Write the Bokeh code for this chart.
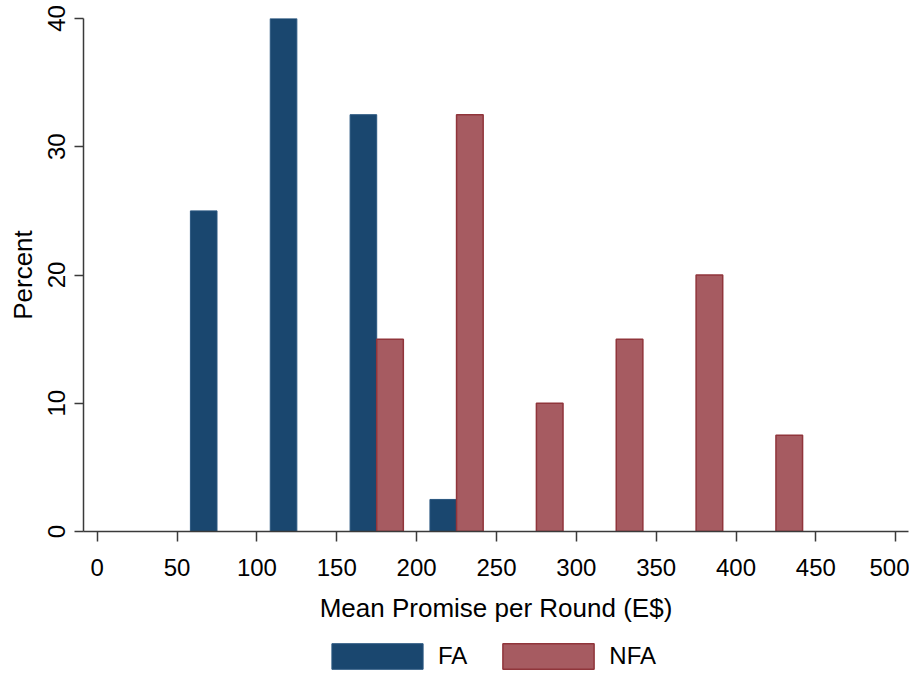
from bokeh.plotting import figure
from bokeh.models import ColumnDataSource, Range1d, FixedTicker, Legend, LegendItem
from bokeh.layouts import column
from bokeh.transform import dodge
from bokeh.embed import file_html
from bokeh.resources import INLINE

# data
fa_bins = [50, 100, 150, 200]
fa_pct = [25, 40, 32.5, 2.5]
nfa_bins = [150, 200, 250, 300, 350, 400]
nfa_pct = [15, 32.5, 10, 15, 20, 7.5]
x_ticks = [0, 50, 100, 150, 200, 250, 300, 350, 400, 450, 500]
y_ticks = [0, 10, 20, 30, 40]
series_names = ["FA", "NFA"]

FONT = "Liberation Sans"
BAR_W = 50 / 3
FA_FILL, FA_LINE = "#1a476f", "#2a5780"
NFA_FILL, NFA_LINE = "#a65b61", "#90353b"

p = figure(width=909, height=630, output_backend="svg", toolbar_location=None,
           x_range=Range1d(-8.6, 508), y_range=Range1d(0, 40),
           min_border_left=83, min_border_top=18, min_border_right=1, min_border_bottom=99)
p.outline_line_color = None
p.xgrid.visible = False
p.ygrid.visible = False

fa_src = ColumnDataSource(dict(bin=fa_bins, pct=fa_pct))
nfa_src = ColumnDataSource(dict(bin=nfa_bins, pct=nfa_pct))

p.vbar(x=dodge("bin", BAR_W, range=None), top="pct", width=BAR_W, bottom=0,
       source=fa_src, fill_color=FA_FILL, line_color=FA_LINE, line_width=1)
p.vbar(x=dodge("bin", 2 * BAR_W, range=None), top="pct", width=BAR_W, bottom=0,
       source=nfa_src, fill_color=NFA_FILL, line_color=NFA_LINE, line_width=1.5)

for ax in (p.xaxis[0], p.yaxis[0]):
    ax.axis_line_color = "#3a3a3a"
    ax.axis_line_width = 1.5
    ax.major_tick_line_color = "#3a3a3a"
    ax.major_tick_line_width = 1.5
    ax.major_tick_in = 0
    ax.minor_tick_line_color = None
    ax.major_label_text_font = FONT
    ax.major_label_text_color = "black"
    ax.axis_label_text_font = FONT
    ax.axis_label_text_font_style = "normal"
    ax.axis_label_text_color = "black"

p.xaxis.ticker = FixedTicker(ticks=x_ticks)
p.yaxis.ticker = FixedTicker(ticks=y_ticks)
p.xaxis.major_tick_out = 10
p.yaxis.major_tick_out = 9
p.xaxis.major_label_text_font_size = "24px"
p.yaxis.major_label_text_font_size = "24px"
p.yaxis.major_label_orientation = "vertical"
p.xaxis.major_label_standoff = 17
p.yaxis.major_label_standoff = 10
p.xaxis.axis_label = "Mean Promise per Round (E$)"
p.yaxis.axis_label = "Percent"
p.xaxis.axis_label_text_font_size = "26px"
p.yaxis.axis_label_text_font_size = "26px"
p.xaxis.axis_label_standoff = 14
p.yaxis.axis_label_standoff = 7

# legend strip below the chart; its (hidden) renderers only supply the legend swatches
lg = figure(width=909, height=42, output_backend="svg", toolbar_location=None,
            x_range=Range1d(0, 1), y_range=Range1d(0, 1),
            x_axis_type=None, y_axis_type=None,
            min_border_left=0, min_border_right=0, min_border_top=0, min_border_bottom=0)
lg.outline_line_color = None
lg.xgrid.visible = False
lg.ygrid.visible = False
d_fa = lg.vbar(x="bin", top="pct", width=BAR_W, bottom=0,
               source=fa_src, fill_color=FA_FILL, line_color=FA_LINE, line_width=1)
d_nfa = lg.vbar(x="bin", top="pct", width=BAR_W, bottom=0,
                source=nfa_src, fill_color=NFA_FILL, line_color=NFA_LINE, line_width=1.5)
d_fa.visible = False
d_nfa.visible = False

legend = Legend(items=[LegendItem(label=series_names[0], renderers=[d_fa]),
                       LegendItem(label=series_names[1], renderers=[d_nfa])],
                orientation="horizontal", location=(237, 0), click_policy="none",
                glyph_width=114, glyph_height=32, label_standoff=4, spacing=24,
                label_text_font=FONT, label_text_font_size="24px",
                label_text_color="black",
                border_line_color=None, background_fill_alpha=0,
                padding=0, margin=0)
lg.add_layout(legend, "center")

layout = column(p, lg, spacing=0)
open("out.html", "w").write(file_html(layout, INLINE))
